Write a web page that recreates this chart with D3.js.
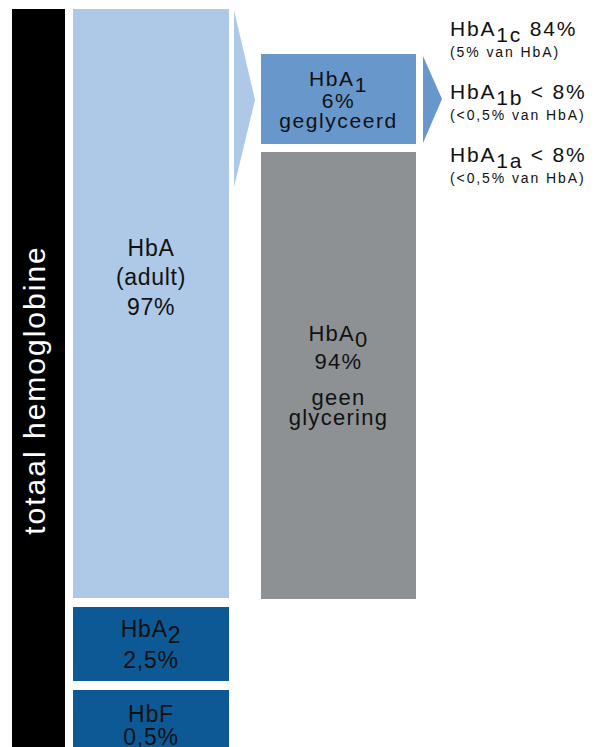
<!DOCTYPE html>
<html>
<head>
<meta charset="utf-8">
<script src="https://cdn.jsdelivr.net/npm/d3@7"></script>
<style>
  html, body { margin: 0; padding: 0; background: #fff; }
  svg { display: block; font-family: "Liberation Sans", Arial, sans-serif; }
</style>
</head>
<body>
<div id="chart"></div>
<script>
/* Hemoglobine breakdown: total -> HbA / HbA2 / HbF -> HbA1 / HbA0 -> HbA1 fractions. */

var boxNames    = ["HbA", "HbA", "HbA", "HbA", "HbF"];
var boxSubs     = ["", "1", "0", "2", ""];
var boxPercents = [97, 6, 94, 2.5, 0.5];
var boxNotes    = [["(adult)"], ["geglyceerd"], ["geen", "glycering"], [], []];
var boxKeys     = ["hba", "hba1", "hba0", "hba2", "hbf"];

var fracSubs   = ["1c", "1b", "1a"];
var fracValues = ["84%", "< 8%", "< 8%"];
var fracShares = ["(5% van HbA)", "(<0,5% van HbA)", "(<0,5% van HbA)"];

var totalLabel = "totaal hemoglobine";

var W = 599, H = 747;

// columns and rows of the diagram
var col = d3.scaleOrdinal().domain(["total", "left", "mid"]).range([[12, 65], [73, 229], [261, 416]]);
var layout = {
  hba:  { col: "left", y0: 9,   y1: 598, fill: "#aec8e7", size: 23, ls: 0.7, lines: [256, 285, 315] },
  hba2: { col: "left", y0: 607, y1: 681, fill: "#0c5995", size: 23, ls: 0.8, lines: [637, 668] },
  hbf:  { col: "left", y0: 690, y1: 760, fill: "#0c5995", size: 23, ls: 0.8, lines: [722, 745] },
  hba1: { col: "mid",  y0: 54,  y1: 144, fill: "#6897cc", size: 21, ls: 1.6, lines: [86, 108, 128] },
  hba0: { col: "mid",  y0: 152, y1: 599, fill: "#8d9194", size: 22, ls: 1.3, lines: [341, 369, 405, 425] }
};

function pct(v) { return String(v).replace(".", ",") + "%"; }

var svg = d3.select("#chart").append("svg")
  .attr("width", W).attr("height", H)
  .attr("viewBox", "0 0 " + W + " " + H);

// black total bar
var tc = col("total");
svg.append("rect")
  .attr("x", tc[0]).attr("y", 9)
  .attr("width", tc[1] - tc[0]).attr("height", H)
  .attr("fill", "#000");
svg.append("text")
  .attr("transform", "translate(45,390) rotate(-90)")
  .attr("text-anchor", "middle")
  .attr("fill", "#fff")
  .style("font-size", "30px")
  .style("letter-spacing", "2px")
  .text(totalLabel);

// arrows
var arrowLine = d3.line();
svg.append("path")
  .attr("d", arrowLine([[234, 10], [255, 100], [234, 187]]) + "Z")
  .attr("fill", layout.hba.fill);
svg.append("path")
  .attr("d", arrowLine([[423, 56], [442, 99], [423, 143]]) + "Z")
  .attr("fill", layout.hba1.fill);

// boxes
boxKeys.forEach(function (k, i) {
  var L = layout[k];
  var c = col(L.col);
  svg.append("rect")
    .attr("x", c[0]).attr("y", L.y0)
    .attr("width", c[1] - c[0]).attr("height", L.y1 - L.y0)
    .attr("fill", L.fill);

  var cx = (c[0] + c[1]) / 2;
  var lines = [null, pct(boxPercents[i])].concat(boxNotes[i]);
  // HbA shows its note before the percentage
  if (k === "hba") lines = [null, boxNotes[i][0], pct(boxPercents[i])];

  lines.forEach(function (txt, j) {
    var t = svg.append("text")
      .attr("x", cx).attr("y", L.lines[j])
      .attr("text-anchor", "middle")
      .attr("fill", "#111")
      .style("font-size", L.size + "px")
      .style("letter-spacing", L.ls + "px");
    if (j === 0) {
      t.append("tspan").text(boxNames[i]);
      if (boxSubs[i]) t.append("tspan").attr("dy", 6).text(boxSubs[i]);
    } else {
      t.text(txt);
    }
  });
});

// HbA1 fractions
var fy = d3.scalePoint().domain(fracSubs).range([36, 162]);
fracSubs.forEach(function (s, i) {
  var t = svg.append("text")
    .attr("x", 450).attr("y", fy(s))
    .attr("fill", "#111")
    .style("font-size", "21px")
    .style("letter-spacing", "1.8px");
  t.append("tspan").text("HbA");
  t.append("tspan").attr("dy", 6).text(s);
  t.append("tspan").attr("dy", -6).text(" " + fracValues[i]);

  svg.append("text")
    .attr("x", 450).attr("y", fy(s) + 21)
    .attr("fill", "#111")
    .style("font-size", "14px")
    .style("letter-spacing", "1.9px")
    .text(fracShares[i]);
});
</script>
</body>
</html>
